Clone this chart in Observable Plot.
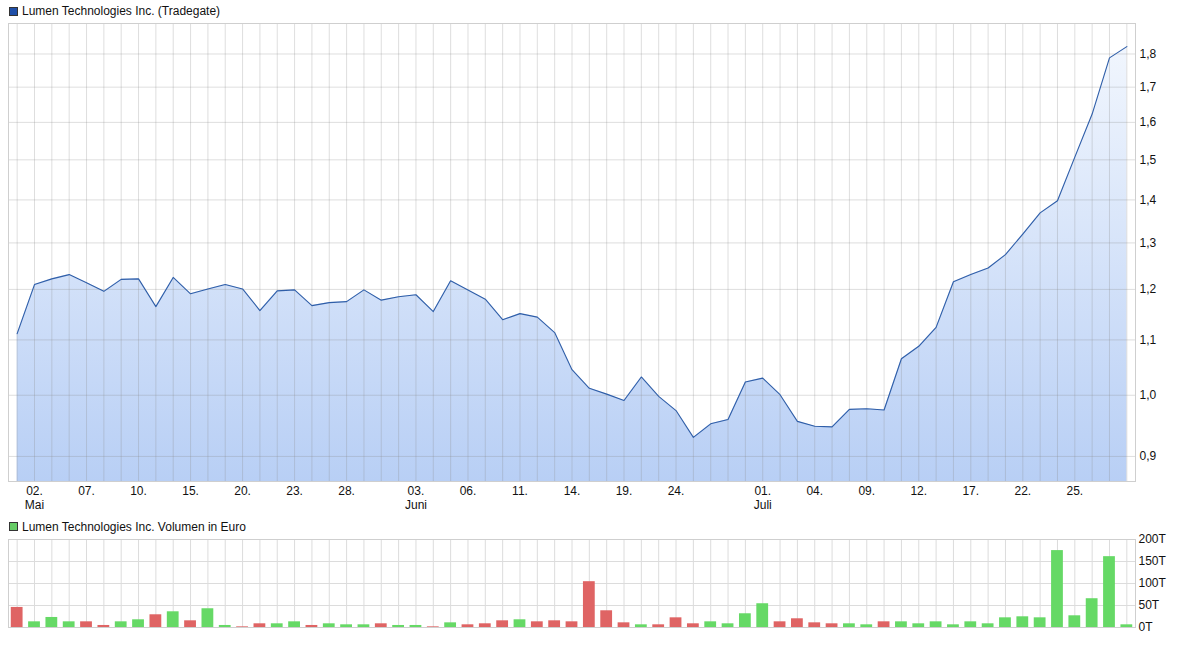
<!DOCTYPE html>
<html><head><meta charset="utf-8">
<script src="https://cdn.jsdelivr.net/npm/d3@7"></script>
<script src="https://cdn.jsdelivr.net/npm/@observablehq/plot@0.6"></script>
<style>
html,body{margin:0;padding:0;background:#fff;}
body{width:1189px;height:645px;overflow:hidden;font-family:"Liberation Sans",Arial,sans-serif;}
.legend{height:22px;display:flex;align-items:center;font-size:12px;color:#111;padding-left:9px;box-sizing:border-box;}
.sw{width:7px;height:7px;border:1px solid #333;margin-right:4px;display:inline-block;}
svg{display:block;overflow:visible;}
</style></head><body>
<div class="legend"><span class="sw" style="background:#1f4fa8"></span>Lumen Technologies Inc. (Tradegate)</div>
<div id="c1"></div>
<div class="legend" style="height:23px"><span class="sw" style="background:#66cc66"></span>Lumen Technologies Inc. Volumen in Euro</div>
<div id="c2"></div>
<script>
const dates = [
 "2024-05-01","2024-05-02","2024-05-03","2024-05-06","2024-05-07","2024-05-08","2024-05-09","2024-05-10","2024-05-13","2024-05-14","2024-05-15","2024-05-16","2024-05-17","2024-05-20","2024-05-21","2024-05-22","2024-05-23","2024-05-24","2024-05-27","2024-05-28","2024-05-29","2024-05-30","2024-05-31",
 "2024-06-03","2024-06-04","2024-06-05","2024-06-06","2024-06-07","2024-06-10","2024-06-11","2024-06-12","2024-06-13","2024-06-14","2024-06-17","2024-06-18","2024-06-19","2024-06-20","2024-06-21","2024-06-24","2024-06-25","2024-06-26","2024-06-27","2024-06-28",
 "2024-07-01","2024-07-02","2024-07-03","2024-07-04","2024-07-05","2024-07-08","2024-07-09","2024-07-10","2024-07-11","2024-07-12","2024-07-15","2024-07-16","2024-07-17","2024-07-18","2024-07-19","2024-07-22","2024-07-23","2024-07-24","2024-07-25","2024-07-26","2024-07-29","2024-07-30"
];
const prices = [
 1.112,1.210,1.222,1.231,1.214,1.196,1.221,1.222,1.165,1.225,1.191,1.201,1.210,1.201,1.157,1.197,1.199,1.167,1.173,1.175,1.199,1.178,1.185,
 1.189,1.155,1.218,1.199,1.180,1.139,1.151,1.144,1.114,1.045,1.012,1.002,0.991,1.032,0.998,0.974,0.930,0.952,0.959,1.023,
 1.030,1.001,0.956,0.948,0.947,0.976,0.977,0.975,1.065,1.088,1.124,1.216,1.231,1.245,1.274,1.320,1.369,1.398,1.507,1.623,1.788,1.823
];
const volumes = [
 45.6,12.9,22.8,12.9,12.9,4.6,12.9,17.5,28.9,35.7,15.2,42.6,4.6,1.5,8.4,8.4,12.9,4.6,8.4,6.1,6.1,8.4,4.6,
 4.6,1.5,10.6,6.1,8.4,15.2,17.5,12.9,15.2,12.9,104.1,38,10.6,6.1,6.1,22,8.4,12.9,8.4,31.2,
 54,12.9,19.8,10.6,8.4,8.4,6.1,12.9,12.9,8.4,12.9,6.1,12.9,8.4,22,24.3,22,174.8,26.6,65.4,161,6.1
];
const trends = [
 "down","up","up","up","down","down","up","up","down","up","down","up","up","down","down","up","up","down","up","up","up","down","up",
 "up","down","up","down","down","down","up","down","down","down","down","down","down","up","down","down","down","up","up","up",
 "up","down","down","down","down","up","up","down","up","up","up","up","up","up","up","up","up","up","up","up","up","up"
];
const tickDates = ["2024-05-02","2024-05-07","2024-05-10","2024-05-15","2024-05-20","2024-05-23","2024-05-28","2024-06-03","2024-06-06","2024-06-11","2024-06-14","2024-06-19","2024-06-24","2024-07-01","2024-07-04","2024-07-09","2024-07-12","2024-07-17","2024-07-22","2024-07-25"];
const tickLabels = ["02.\nMai","07.","10.","15.","20.","23.","28.","03.\nJuni","06.","11.","14.","19.","24.","01.\nJuli","04.","09.","12.","17.","22.","25."];
const priceTicks = [0.9,1.0,1.1,1.2,1.3,1.4,1.5,1.6,1.7,1.8];
const volTicks = [0,50,100,150,200];
const priceDomain = [0.862, 1.897];
const volDomain = [0, 200];

const n = dates.length;
const idx = d3.range(n);
const priceData = idx.map(i => ({i, date: dates[i], price: prices[i]}));
const volData = idx.map(i => ({i, vol: volumes[i], trend: trends[i]}));
const tickIdx = tickDates.map(d => dates.indexOf(d));
const labelMap = new Map(tickIdx.map((t, k) => [t, tickLabels[k]]));
const font = {fontFamily: "Liberation Sans, Arial, sans-serif", fontSize: "12px", color: "#111", background: "#fff", overflow: "visible"};

const gradDefs = (index, scales, values, dim) => {
  const defs = d3.create("svg:defs");
  const g = defs.append("linearGradient").attr("id", "areaGrad")
    .attr("gradientUnits", "userSpaceOnUse")
    .attr("x1", 0).attr("x2", 0)
    .attr("y1", dim.marginTop).attr("y2", dim.height - dim.marginBottom);
  g.append("stop").attr("offset", 0).attr("stop-color", "#f4f8fe");
  g.append("stop").attr("offset", 1).attr("stop-color", "#b8cff5");
  return defs.node();
};

const chart1 = Plot.plot({
  width: 1189, height: 493,
  marginLeft: 8, marginRight: 54, marginTop: 1, marginBottom: 34,
  style: font,
  x: {type: "linear", domain: [-0.5, n - 0.5]},
  y: {type: "log", domain: priceDomain},
  marks: [
    gradDefs,
    Plot.areaY(priceData, {x: "i", y1: priceDomain[0], y2: "price", fill: "url(#areaGrad)"}),
    Plot.ruleX(idx, {stroke: "#8a8a8a", strokeOpacity: 0.28}),
    Plot.ruleY(priceTicks, {stroke: "#8a8a8a", strokeOpacity: 0.28}),
    Plot.lineY(priceData, {x: "i", y: "price", stroke: "#2f5ea8", strokeWidth: 1.1}),
    Plot.frame({stroke: "#cfcfcf"}),
    Plot.axisY(priceTicks, {anchor: "right", label: null, tickSize: 0, tickPadding: 4, tickFormat: d => d.toFixed(1).replace(".", ",")}),
    Plot.axisX(tickIdx, {anchor: "bottom", label: null, tickSize: 0, tickPadding: 3, lineHeight: 1.2, tickFormat: d => labelMap.get(d)})
  ]
});
document.getElementById("c1").append(chart1);

const chart2 = Plot.plot({
  width: 1189, height: 107,
  marginLeft: 8, marginRight: 54, marginTop: 1, marginBottom: 18,
  style: font,
  x: {type: "linear", domain: [-0.5, n - 0.5], axis: null},
  y: {domain: volDomain},
  marks: [
    Plot.ruleX(idx, {stroke: "#dcdcdc"}),
    Plot.ruleY(volTicks, {stroke: "#dcdcdc"}),
    Plot.rectY(volData, {x1: d => d.i - 0.34, x2: d => d.i + 0.34, y1: 0, y2: "vol", fill: d => d.trend === "up" ? "#66d966" : "#df6464"}),
    Plot.frame({stroke: "#cfcfcf"}),
    Plot.axisY(volTicks, {anchor: "right", label: null, tickSize: 0, tickPadding: 3, tickFormat: d => d + "T"})
  ]
});
document.getElementById("c2").append(chart2);
</script>
</body></html>
